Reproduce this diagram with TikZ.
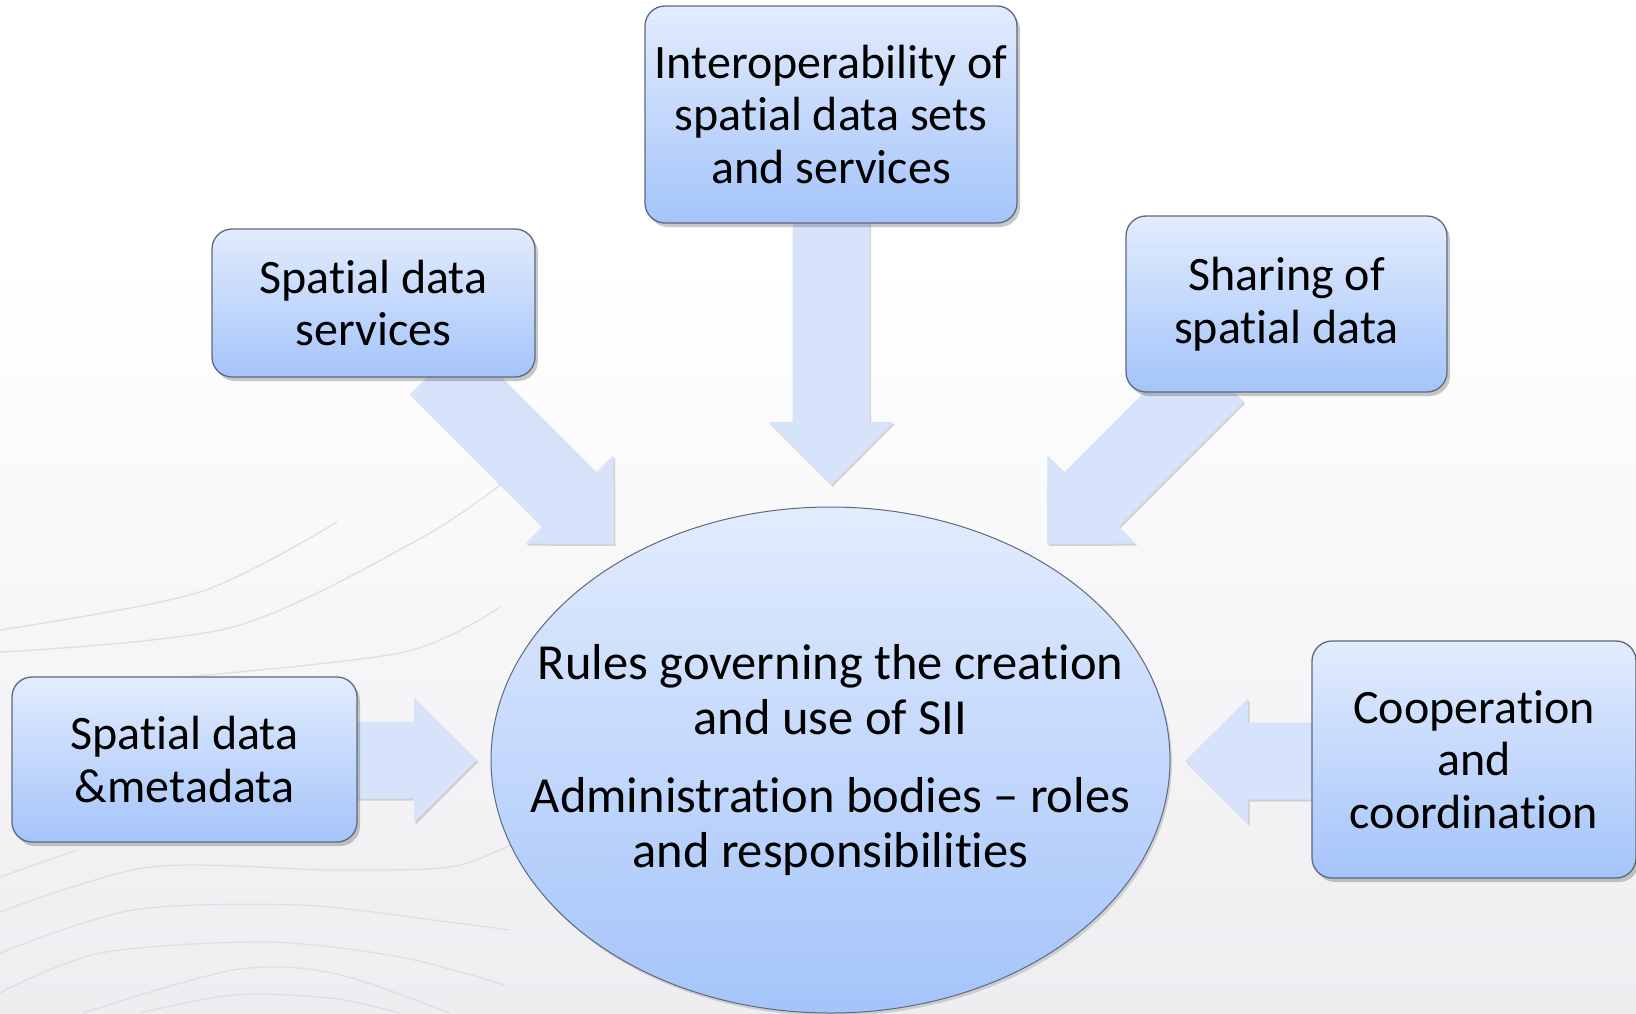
\documentclass[tikz,border=0pt]{standalone}
\usepackage{fontspec}
\setmainfont{Carlito}[Ligatures={TeX,NoCommon,NoContextual}, Contextuals={NoAlternate}]
\usetikzlibrary{shapes.geometric,shadows,calc}
\newcommand{\tI}{t\kern0pt i}
\definecolor{boxtop}{RGB}{226,236,253}
\definecolor{boxbot}{RGB}{164,196,250}
\definecolor{arrfill}{RGB}{214,227,251}
\definecolor{edgecol}{RGB}{95,105,125}
\definecolor{bgbot}{RGB}{226,227,232}
\definecolor{bgmid}{RGB}{240,240,243}
\definecolor{contourcol}{RGB}{222,223,228}
\pgfdeclareverticalshading{bgshade}{100bp}{color(0bp)=(bgbot); color(30bp)=(bgmid); color(62bp)=(white); color(100bp)=(white)}
\newcommand{\myblockarrow}[3]{%
  \begin{scope}[shift={(#1)}, rotate=#2]
    \fill[arrowbody] (0,0) -- (-63,62.5) -- (-63,38.5) -- (-#3,38.5) -- (-#3,-38.5) -- (-63,-38.5) -- (-63,-62.5) -- cycle;
  \end{scope}}
\tikzset{
  arrowbody/.style={fill=arrfill, drop shadow={shadow xshift=1.5pt, shadow yshift=-2pt, opacity=0.25, fill=black!60}},
  infobox/.style={draw=edgecol, line width=1.3pt, rounded corners=20pt, top color=boxtop, bottom color=boxbot,
    align=center, inner sep=0pt, font=\fontsize{48}{52.5}\selectfont,
    drop shadow={shadow xshift=3pt, shadow yshift=-4pt, opacity=0.3, fill=black!70}},
  centreell/.style={ellipse, draw=edgecol, line width=1pt, top color=boxtop, bottom color=boxbot, inner sep=0pt,
    drop shadow={shadow xshift=2pt, shadow yshift=-3pt, opacity=0.2, fill=black!70}},
  centretext/.style={align=center, inner sep=0pt, font=\fontsize{50.5}{55}\selectfont},
  contour/.style={draw=contourcol, line width=1.3pt}
}
\begin{document}
\begin{tikzpicture}[x=1pt, y=-1pt]
  \useasboundingbox (0,0) rectangle (1636,1013);
  \shade[shading=bgshade] (0,0) rectangle (1636,1013);
  % faint contour lines
  \draw[contour] plot[smooth] coordinates {(0,630) (200,592) (337,522)};
  \draw[contour] plot[smooth] coordinates {(0,652) (233,627) (423,537) (520,470)};
  \draw[contour] plot[smooth] coordinates {(150,680) (400,653) (500,607)};
  \draw[contour] plot[smooth] coordinates {(0,877) (77,850)};
  \draw[contour] plot[smooth] coordinates {(0,912) (150,867) (333,870) (450,867) (510,845)};
  \draw[contour] plot[smooth] coordinates {(0,953) (133,910) (300,905) (433,920) (510,930)};
  \draw[contour] plot[smooth] coordinates {(0,993) (100,953) (267,942) (400,957) (505,985)};
  \draw[contour] plot[smooth] coordinates {(83,1013) (233,970) (333,973) (450,1013)};
  \draw[contour] plot[smooth] coordinates {(140,1013) (233,995) (330,998) (400,1013)};
  % arrow tips
  \coordinate (tipT) at (831,485);
  \coordinate (tipL) at (614,544);
  \coordinate (tipR) at (1047,544);
  \coordinate (tipW) at (477,760);
  \coordinate (tipE) at (1185,761);
  \myblockarrow{tipT}{-90}{280}
  \myblockarrow{tipL}{-45}{250}
  \myblockarrow{tipR}{-135}{240}
  \myblockarrow{tipW}{0}{140}
  \myblockarrow{tipE}{180}{150}
  % nodes
  \node[centreell, minimum width=679pt, minimum height=506pt] (rules) at (830.5,760) {};
  \node[centretext] (rulestext) at (rules.center)
    {Rules governing the crea\tI on\\and use of SII\\[23pt]Administra\tI on bodies \textendash{} roles\\and responsibili\tI es};
  \node[infobox, minimum width=372pt, minimum height=217pt] (inter) at (831,114.5)
    {Interoperability of\\spa\tI al data sets\\and services};
  \node[infobox, minimum width=323pt, minimum height=148pt] (sds) at (373.5,303)
    {Spa\tI al data\\services};
  \node[infobox, minimum width=321pt, minimum height=176pt] (share) at (1286.5,304)
    {Sharing of\\spa\tI al data};
  \node[infobox, minimum width=345pt, minimum height=165pt] (sdm) at (184.5,759.5)
    {Spa\tI al data\\\&metadata};
  \node[infobox, minimum width=324pt, minimum height=237pt] (coop) at (1474,759.5)
    {Coopera\tI on\\and\\coordina\tI on};
\end{tikzpicture}
\end{document}
